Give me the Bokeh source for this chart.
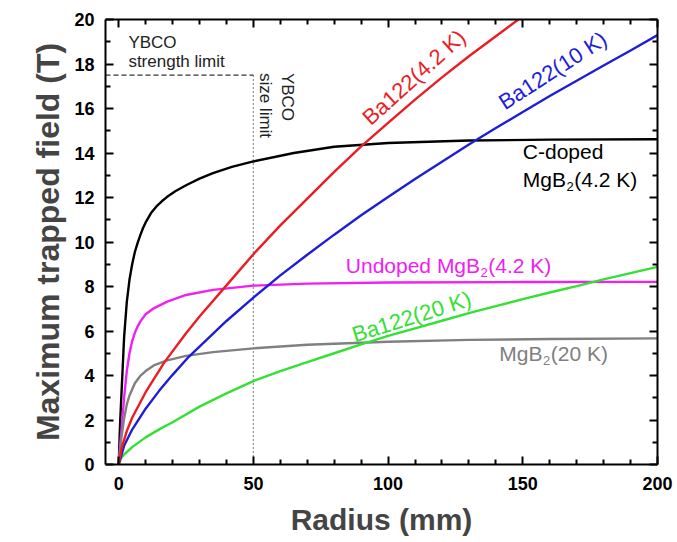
from bokeh.plotting import figure
from bokeh.models import Range1d, LinearAxis, FixedTicker, CustomJSTickFormatter
from bokeh.core.properties import value
from bokeh.embed import file_html
from bokeh.resources import INLINE
import math

# ---------------- data ----------------
# Ba122 (4.2 K)
r_ba122_42 = [0, 1, 3, 5, 10, 17, 25, 30, 40, 50, 60, 70, 80, 90, 100, 110, 120, 130, 140, 150]
b_ba122_42 = [0, 0.7, 1.5, 2.1, 3.25, 4.6, 5.9, 6.65, 8.05, 9.45, 10.75, 11.95, 13.15, 14.3,
              15.35, 16.4, 17.4, 18.35, 19.25, 20.15]
# Ba122 (10 K)
r_ba122_10 = [0, 2, 5, 10, 15, 20, 26, 30, 40, 50, 60, 70, 80, 90, 100, 110, 120, 130, 140,
              150, 160, 170, 180, 190, 200]
b_ba122_10 = [0, 0.84, 1.57, 2.51, 3.31, 4.03, 4.84, 5.3, 6.45, 7.5, 8.5, 9.43, 10.33, 11.2,
              12.02, 12.83, 13.61, 14.38, 15.12, 15.84, 16.56, 17.25, 17.93, 18.61, 19.3]
# Ba122 (20 K)
r_ba122_20 = [0, 1, 2, 5, 10, 15, 20, 30, 40, 50, 60, 70, 80, 90, 100, 110, 120, 130, 140,
              150, 160, 170, 180, 190, 200]
b_ba122_20 = [0, 0.3, 0.45, 0.78, 1.22, 1.58, 1.9, 2.6, 3.2, 3.75, 4.2, 4.6, 5.0, 5.4, 5.78,
              6.12, 6.46, 6.8, 7.12, 7.43, 7.73, 8.02, 8.32, 8.6, 8.88]
# C-doped MgB2 (4.2 K)
r_cmgb2_42 = [0, 0.5, 1, 2, 3, 4, 5, 6, 7, 8, 9, 10, 12, 14, 16, 18, 21, 25, 30, 35, 42, 50,
              65, 80, 100, 130, 160, 200]
b_cmgb2_42 = [0, 1.8, 3.1, 5.7, 7.3, 8.3, 9.0, 9.55, 9.95, 10.3, 10.62, 10.88, 11.3, 11.6,
              11.83, 12.03, 12.28, 12.55, 12.85, 13.1, 13.38, 13.62, 14.0, 14.28, 14.45, 14.56,
              14.6, 14.62]
# Undoped MgB2 (4.2 K)
r_mgb2_42 = [0, 0.5, 1, 2, 3, 4, 5, 6, 7, 8, 10, 13, 18, 25, 35, 50, 70, 100, 150, 200]
b_mgb2_42 = [0, 0.8, 1.5, 3.0, 4.2, 5.0, 5.55, 5.92, 6.2, 6.42, 6.75, 7.02, 7.32, 7.62, 7.85,
             8.04, 8.13, 8.18, 8.2, 8.21]
# MgB2 (20 K)
r_mgb2_20 = [0, 0.5, 1, 2, 3, 4, 6, 8, 10, 13, 18, 25, 35, 50, 70, 100, 130, 160, 200]
b_mgb2_20 = [0, 0.6, 1.2, 2.05, 2.7, 3.1, 3.65, 3.98, 4.2, 4.45, 4.68, 4.88, 5.05, 5.22,
             5.38, 5.52, 5.6, 5.64, 5.67]

ybco_strength_limit = 17.5   # T
ybco_size_limit = 50         # mm

# tick positions
x_major = [0, 50, 100, 150, 200]
x_minor = [10, 20, 30, 40, 60, 70, 80, 90, 110, 120, 130, 140, 160, 170, 180, 190]
y_major = [0, 2, 4, 6, 8, 10, 12, 14, 16, 18, 20]
y_minor = [1, 3, 5, 7, 9, 11, 13, 15, 17, 19]

X0, X1 = -4.9, 200
Y0, Y1 = 0, 20

# ---------------- styling ----------------
FONT = "Liberation Sans"
RED = "#ec1c24"
BLUE = "#1e1ed8"
GREEN = "#33e033"
MAGENTA = "#f020f0"
GREY = "#808080"
BLACK = "#000000"
LW = 2.4
LBL = 21  # px label font size
ROT = 22
SUB = 13

p = figure(width=677, height=542, output_backend="svg", toolbar_location=None,
           x_range=Range1d(X0, X1), y_range=Range1d(Y0, Y1),
           x_axis_location=None, y_axis_location=None)
p.min_border_left = 105
p.min_border_right = 20
p.min_border_top = 19
p.min_border_bottom = 78
p.outline_line_color = None
p.xgrid.visible = False
p.ygrid.visible = False
p.background_fill_color = "white"
p.border_fill_color = "white"


def style_axis(ax, labels=True):
    ax.axis_line_width = 2
    ax.axis_line_color = "black"
    ax.major_tick_in = 8
    ax.major_tick_out = 0
    ax.minor_tick_in = 5
    ax.minor_tick_out = 0
    ax.major_tick_line_width = 2
    ax.minor_tick_line_width = 2
    ax.major_tick_line_color = "black"
    ax.minor_tick_line_color = "black"
    ax.major_label_text_font = FONT
    ax.major_label_text_font_style = "bold"
    ax.major_label_text_font_size = "18px"
    ax.major_label_text_color = "black"
    if not labels:
        ax.formatter = CustomJSTickFormatter(code="return ''")
        ax.major_label_standoff = 0


xb = LinearAxis(ticker=FixedTicker(ticks=x_major, minor_ticks=x_minor))
style_axis(xb)
xb.major_label_standoff = 12
xb.axis_label = "Radius (mm)"
xb.axis_label_text_font = FONT
xb.axis_label_text_font_style = "bold"
xb.axis_label_text_font_size = "30px"
xb.axis_label_standoff = 10
p.add_layout(xb, "below")

xt = LinearAxis(ticker=FixedTicker(ticks=x_major, minor_ticks=x_minor))
style_axis(xt, labels=False)
p.add_layout(xt, "above")

yl = LinearAxis(ticker=FixedTicker(ticks=y_major, minor_ticks=y_minor))
style_axis(yl)
yl.major_label_standoff = 11
yl.axis_label = "Maximum trapped field (T)"
yl.axis_label_text_font = FONT
yl.axis_label_text_font_style = "bold"
yl.axis_label_text_font_size = "32px"
yl.axis_label_standoff = 5
p.add_layout(yl, "left")

yr = LinearAxis(ticker=FixedTicker(ticks=y_major, minor_ticks=y_minor))
style_axis(yr, labels=False)
p.add_layout(yr, "right")

# ---------------- limits ----------------
p.line([X0, ybco_size_limit], [ybco_strength_limit, ybco_strength_limit],
       line_color="#333333", line_width=1.2, line_dash="5 3")
p.line([ybco_size_limit, ybco_size_limit], [0, ybco_strength_limit],
       line_color="#333333", line_width=1.3, line_dash="1 3")

# ---------------- curves ----------------
p.line(r_cmgb2_42, b_cmgb2_42, line_color=BLACK, line_width=LW)
p.line(r_mgb2_42, b_mgb2_42, line_color=MAGENTA, line_width=LW)
p.line(r_mgb2_20, b_mgb2_20, line_color=GREY, line_width=LW)
p.line(r_ba122_20, b_ba122_20, line_color=GREEN, line_width=LW)
p.line(r_ba122_10, b_ba122_10, line_color=BLUE, line_width=LW)
p.line(r_ba122_42, b_ba122_42, line_color=RED, line_width=LW)


def txt(x, y, s, color, size=LBL, angle=0.0, align="left", baseline="middle",
        xoff=0, yoff=0, style="normal"):
    p.text(x=[x], y=[y], text=[s], text_color=color, text_font=value(FONT),
           text_font_size=f"{size}px", angle=angle, text_align=align,
           text_baseline=baseline, x_offset=xoff, y_offset=yoff,
           text_font_style=style)


def mgb2_label(x, y, prefix, suffix, color):
    # widths from Liberation Sans (Arial-metric) advance widths
    widths = {"M": .833, "g": .556, "B": .667, "U": .722, "n": .556, "d": .556,
              "o": .556, "p": .556, "e": .556, " ": .278}
    w1 = sum(widths[c] for c in prefix) * LBL
    txt(x, y, prefix, color)
    txt(x, y, "2", color, size=SUB, xoff=w1 + 0.5, yoff=7)
    txt(x, y, suffix, color, xoff=w1 + 0.556 * SUB + 1)


# texts
txt(3.6, 18.96, "YBCO", "#222222", size=17)
txt(3.6, 18.1, "strength limit", "#222222", size=17)
txt(62.6, 17.6, "YBCO", "#222222", size=17, angle=-math.pi / 2)
txt(54.5, 17.6, "size limit", "#222222", size=17, angle=-math.pi / 2)

txt(109.6, 17.4, "Ba122(4.2 K)", RED, size=ROT, angle=math.radians(42), align="center")
txt(161.1, 17.7, "Ba122(10 K)", BLUE, size=ROT, angle=math.radians(33), align="center")
txt(108.7, 6.64, "Ba122(20 K)", GREEN, size=ROT, angle=math.radians(17.5), align="center")

txt(150.0, 14.05, "C-doped", BLACK)
mgb2_label(150.0, 12.8, "MgB", "(4.2 K)", BLACK)
mgb2_label(84.3, 8.96, "Undoped MgB", "(4.2 K)", MAGENTA)
mgb2_label(141.3, 5.0, "MgB", "(20 K)", GREY)

open("out.html", "w").write(file_html(p, INLINE))
